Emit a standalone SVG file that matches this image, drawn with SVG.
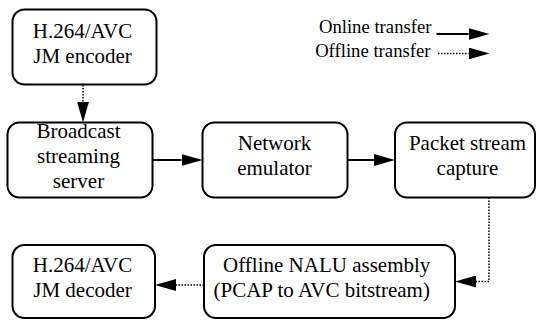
<svg xmlns="http://www.w3.org/2000/svg" width="536" height="320" viewBox="0 0 536 320">
<style>
.box{fill:#fff;stroke:#000;stroke-width:2}
.t{font-family:'Liberation Serif','Times New Roman',serif;font-size:21px;fill:#000;text-anchor:middle}
.lg{font-family:'Liberation Serif','Times New Roman',serif;font-size:18.7px;fill:#000;text-anchor:end}
.solid{fill:none;stroke:#000;stroke-width:2}
.dot{fill:none;stroke:#000;stroke-width:1.5;stroke-dasharray:1.5 1.5}
</style>
<defs>
<marker id="ah" viewBox="0 0 21 12" refX="0" refY="6" markerWidth="21" markerHeight="12" markerUnits="userSpaceOnUse" orient="auto">
<path d="M0,0 L21,6 L0,12 Z" fill="#000"/>
</marker>
</defs>
<rect width="536" height="320" fill="#fff"/>
<g id="legend">
<text class="lg" x="431.5" y="33.3">Online transfer</text>
<text class="lg" x="430.5" y="56.7">Offline transfer</text>
<path class="solid" d="M436.5,34 H468.5" marker-end="url(#ah)"/>
<path class="dot" d="M438,53.5 H468.5" marker-end="url(#ah)"/>
</g>
<g id="connectors">
<path class="dot" d="M83,85 V101.5" marker-end="url(#ah)"/>
<path class="solid" d="M152.5,160 H181.5" marker-end="url(#ah)"/>
<path class="solid" d="M347.5,160 H374" marker-end="url(#ah)"/>
<path class="dot" d="M489,197.5 V281.5 H476" marker-end="url(#ah)"/>
<path class="dot" d="M204,285 H176" marker-end="url(#ah)"/>
</g>
<g id="encoder">
<rect class="box" x="12.5" y="9.5" width="144" height="75" rx="12"/>
<text class="t" x="82.5" y="38.3">H.264/AVC</text>
<text class="t" x="82.5" y="63.3">JM encoder</text>
</g>
<g id="server">
<rect class="box" x="7.5" y="122.5" width="145" height="75" rx="12"/>
<text class="t" x="78.5" y="138.3">Broadcast</text>
<text class="t" x="78.5" y="163.3">streaming</text>
<text class="t" x="78.5" y="188.3">server</text>
</g>
<g id="emulator">
<rect class="box" x="202.5" y="122.5" width="145" height="75" rx="12"/>
<text class="t" x="274.5" y="150.3">Network</text>
<text class="t" x="274.5" y="175.3">emulator</text>
</g>
<g id="capture">
<rect class="box" x="395" y="122.5" width="140" height="75" rx="12"/>
<text class="t" x="467.5" y="150.3">Packet stream</text>
<text class="t" x="467.5" y="175.3">capture</text>
</g>
<g id="assembly">
<rect class="box" x="204" y="245" width="251" height="73" rx="12"/>
<text class="t" x="326.7" y="271.7">Offline NALU assembly</text>
<text class="t" x="321.7" y="296.7">(PCAP to AVC bitstream)</text>
</g>
<g id="decoder">
<rect class="box" x="12.5" y="245" width="142.5" height="73" rx="12"/>
<text class="t" x="82.5" y="271.7">H.264/AVC</text>
<text class="t" x="82.5" y="296.7">JM decoder</text>
</g>
</svg>
